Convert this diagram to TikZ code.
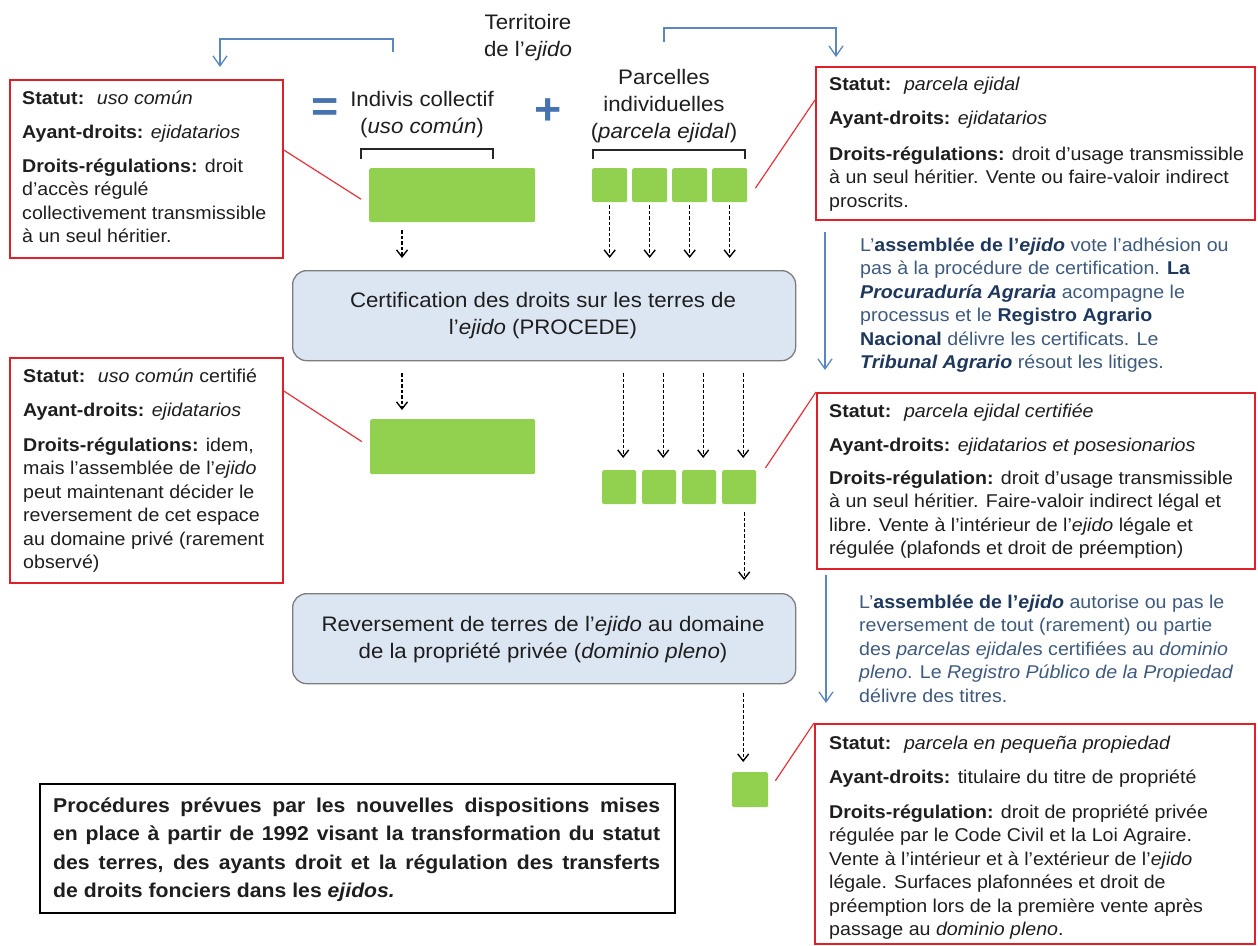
\documentclass[tikz,border=0pt]{standalone}
\usepackage{fontspec}
\setmainfont{Liberation Sans}[FakeStretch=1.06]
\usetikzlibrary{arrows.meta,calc}
\definecolor{rboxc}{RGB}{224,32,40}
\definecolor{rlinec}{RGB}{232,50,60}
\definecolor{grn}{RGB}{146,208,80}
\definecolor{barrow}{RGB}{90,135,192}
\definecolor{symb}{RGB}{70,115,175}
\definecolor{procfill}{RGB}{220,230,242}
\definecolor{procdraw}{RGB}{125,125,125}
\definecolor{txt}{RGB}{30,30,30}
\definecolor{btxt}{RGB}{62,90,125}
\definecolor{bbold}{RGB}{30,55,92}
\newcommand{\bt}[1]{\begin{tabular}[t]{@{}l@{}}#1\end{tabular}}
\newcommand{\ct}[1]{\begin{tabular}[t]{@{}c@{}}#1\end{tabular}}
\newcommand{\bb}[1]{{\bfseries\color{bbold}#1}}
\begin{document}
\begin{tikzpicture}[x=1pt,y=-1pt,
  redbox/.style={draw=rboxc,line width=1.8pt,anchor=north west,inner sep=0pt},
  grnbox/.style={fill=grn,draw=none,anchor=north west,inner sep=0pt,rounded corners=1.5pt},
  procbox/.style={draw=procdraw,fill=procfill,line width=1.3pt,rounded corners=14pt,anchor=north west,inner sep=0pt},
  boxtxt/.style={anchor=base west,inner sep=0pt,text=txt,font=\fontsize{18.5}{23.5}\selectfont},
  bluetxt/.style={anchor=base west,inner sep=0pt,text=btxt,font=\fontsize{18.5}{23.5}\selectfont},
  lbl/.style={anchor=base,inner sep=0pt,text=txt,font=\fontsize{21}{27}\selectfont},
  dasharrow/.style={draw=black,line width=1.4pt,dash pattern=on 3.5pt off 2pt,-{Straight Barb[length=7pt,width=11pt]}},
  bluearrow/.style={draw=barrow,line width=1.3pt,-{Straight Barb[length=10pt,width=14pt]}},
  redline/.style={draw=rlinec,line width=1.2pt},
  bracket/.style={draw=black!85,line width=1.4pt},
  symbol/.style={inner sep=0pt,text=symb,font=\fontsize{44}{44}\selectfont\bfseries}]
\useasboundingbox (0,0) rectangle (1258,945);
\fill[white] (0,0) rectangle (1258,945);

% labels
\node[lbl] (terr) at (528,29) {\ct{Territoire\\de l’\textit{ejido}}};
\node[lbl] (indiv) at (422,106) {\ct{Indivis collectif\\(\textit{uso común})}};
\node[lbl] (parc) at (664,84) {\ct{Parcelles\\individuelles\\(\textit{parcela ejidal})}};
\node[symbol] (eq) at (325,110) {=};
\node[symbol] (plus) at (548,112) {+};

% red boxes
\node[redbox,minimum width=273pt,minimum height=178pt] (b1) at (9,79) {};
\node[redbox,minimum width=439pt,minimum height=153pt] (r1) at (815,66) {};
\node[redbox,minimum width=273pt,minimum height=225pt] (b2) at (9,357) {};
\node[redbox,minimum width=438pt,minimum height=176pt] (r2) at (816,392) {};
\node[redbox,minimum width=440pt,minimum height=220pt] (r3) at (814,723) {};

\node[boxtxt] (b1t) at (22,104) {\bt{\textbf{Statut:}~ \textit{uso común}\\[10.5pt]
\textbf{Ayant-droits:} \textit{ejidatarios}\\[10.5pt]
\textbf{Droits-régulations:} droit\\
d’accès régulé\\
collectivement transmissible\\
à un seul héritier.}};

\node[boxtxt] (r1t) at (829,90) {\bt{\textbf{Statut:}~ \textit{parcela ejidal}\\[10.5pt]
\textbf{Ayant-droits:} \textit{ejidatarios}\\[12.5pt]
\textbf{Droits-régulations:} droit d’usage transmissible\\
à un seul héritier. Vente ou faire-valoir indirect\\
proscrits.}};

\node[boxtxt] (b2t) at (23,382) {\bt{\textbf{Statut:}~ \textit{uso común} certifié\\[10.5pt]
\textbf{Ayant-droits:} \textit{ejidatarios}\\[11.5pt]
\textbf{Droits-régulations:} idem,\\
mais l’assemblée de l’\textit{ejido}\\
peut maintenant décider le\\
reversement de cet espace\\
au domaine privé (rarement\\
observé)}};

\node[boxtxt] (r2t) at (829,417) {\bt{\textbf{Statut:}~ \textit{parcela ejidal certifiée}\\[10.5pt]
\textbf{Ayant-droits:} \textit{ejidatarios et posesionarios}\\[9.5pt]
\textbf{Droits-régulation:} droit d’usage transmissible\\
à un seul héritier. Faire-valoir indirect légal et\\
libre. Vente à l’intérieur de l’\textit{ejido} légale et\\
régulée (plafonds et droit de préemption)}};

\node[boxtxt] (r3t) at (829,749) {\bt{\textbf{Statut:}~ \textit{parcela en pequeña propiedad}\\[10.5pt]
\textbf{Ayant-droits:} titulaire du titre de propriété\\[11.5pt]
\textbf{Droits-régulation:} droit de propriété privée\\
régulée par le Code Civil et la Loi Agraire.\\
Vente à l’intérieur et à l’extérieur de l’\textit{ejido}\\
légale. Surfaces plafonnées et droit de\\
préemption lors de la première vente après\\
passage au \textit{dominio pleno}.}};

% blue texts
\node[bluetxt] (bt1) at (860,251) {\bt{L’\bb{assemblée de l’\textit{ejido}} vote l’adhésion ou\\
pas à la procédure de certification. \bb{La}\\
\bb{\textit{Procuraduría Agraria}} acompagne le\\
processus et le \bb{Registro Agrario}\\
\bb{Nacional} délivre les certificats. Le\\
\bb{\textit{Tribunal Agrario}} résout les litiges.}};

\node[bluetxt] (bt2) at (859,608) {\bt{L’\bb{assemblée de l’\textit{ejido}} autorise ou pas le\\
reversement de tout (rarement) ou partie\\
des \textit{parcelas ejidal}es certifiées au \textit{dominio}\\
\textit{pleno}. Le \textit{Registro Público de la Propiedad}\\
délivre des titres.}};

% green shapes
\node[grnbox,minimum width=166pt,minimum height=54pt] (g1) at (369,168) {};
\node[grnbox,minimum width=35pt,minimum height=34pt] (s11) at (592,168) {};
\node[grnbox,minimum width=35pt,minimum height=34pt] (s12) at (632,168) {};
\node[grnbox,minimum width=35pt,minimum height=34pt] (s13) at (672,168) {};
\node[grnbox,minimum width=35pt,minimum height=34pt] (s14) at (712,168) {};
\node[grnbox,minimum width=165pt,minimum height=55pt] (g2) at (370,419) {};
\node[grnbox,minimum width=34pt,minimum height=34pt] (s21) at (602,470) {};
\node[grnbox,minimum width=34pt,minimum height=34pt] (s22) at (642,470) {};
\node[grnbox,minimum width=34pt,minimum height=34pt] (s23) at (682,470) {};
\node[grnbox,minimum width=34pt,minimum height=34pt] (s24) at (722,470) {};
\node[grnbox,minimum width=36pt,minimum height=35pt] (s3) at (732,772) {};

% process boxes
\node[procbox,minimum width=503pt,minimum height=90pt] (p1) at (292,270) {};
\node[lbl] (p1t) at (543,307) {\ct{Certification des droits sur les terres de\\l’\textit{ejido} (PROCEDE)}};
\node[procbox,minimum width=503pt,minimum height=90pt] (p2) at (292,593) {};
\node[lbl] (p2t) at (543,631) {\ct{Reversement de terres de l’\textit{ejido} au domaine\\de la propriété privée (\textit{dominio pleno})}};

% note box
\node[draw=black,line width=1.8pt,anchor=north west,inner sep=0pt,minimum width=635pt,minimum height=129pt] (note) at (39,783) {};
\node[anchor=base west,inner sep=0pt,text=txt,font=\fontsize{20}{28.5}\selectfont\bfseries] (notet) at (53,812) {\parbox[t]{607pt}{\hyphenpenalty=10000 Procédures prévues par les nouvelles dispositions mises\linebreak en place à partir de 1992 visant la transformation du statut\linebreak des terres, des ayants droit et la régulation des transferts\linebreak de droits fonciers dans les \textit{ejidos.}}};

% black brackets
\draw[bracket] ($(g1.north west)+(-8,-9)$) -- ($(g1.north west)+(-8,-19)$) -- ($(g1.north west)+(124,-19)$) -- ($(g1.north west)+(124,-9)$);
\draw[bracket] ($(s11.north west)+(1,-9)$) -- ($(s11.north west)+(1,-18)$) -- ($(s11.north west)+(153,-18)$) -- ($(s11.north west)+(153,-9)$);

% blue top brackets
\draw[bluearrow] ($(b1.north west)+(384,-27)$) -- ($(b1.north west)+(384,-40)$) -- ($(b1.north west)+(211,-40)$) -- ($(b1.north west)+(211,-12)$);
\draw[bluearrow] ($(r1.north west)+(-151,-24)$) -- ($(r1.north west)+(-151,-38)$) -- ($(r1.north west)+(21,-38)$) -- ($(r1.north west)+(21,-9)$);

% blue side arrows
\draw[bluearrow] ($(r1.south west)+(10,11)$) -- ($(r2.north west)+(9,-22)$);
\draw[bluearrow] ($(r2.south west)+(10,5)$) -- ($(r3.north west)+(12,-20)$);

% dashed arrows
\draw[dasharrow] ($(g1.south west)+(33,8)$) -- ($(p1.north west)+(110,-12)$);
\foreach \s in {s11,s12,s13,s14}
  \draw[dasharrow] ($(\s.south)+(0,3)$) -- ($(p1.north -| \s.south)+(0,-12)$);
\draw[dasharrow] ($(p1.south west)+(110,12)$) -- ($(g2.north west)+(32,-9)$);
\foreach \s in {s21,s22,s23,s24}
  \draw[dasharrow] ($(p1.south -| \s.north)+(4,12)$) -- ($(\s.north)+(4,-12)$);
\draw[dasharrow] ($(s24.south)+(5,8)$) -- ($(p2.north -| s24.south)+(5,-13)$);
\draw[dasharrow] ($(p2.south -| s24.south)+(4,9)$) -- ($(s3.north -| s24.south)+(4,-10)$);

% red connectors
\draw[redline] ($(b1.north east)+(0,71)$) -- ($(g1.west)+(-8,4)$);
\draw[redline] ($(s14.east)+(8,3)$) -- ($(r1.north west)+(0,34)$);
\draw[redline] ($(b2.north east)+(0,34)$) -- ($(g2.west)+(-8,-5)$);
\draw[redline] ($(s24.north east)+(9,-2)$) -- (r2.north west);
\draw[redline] ($(s3.east)+(7,-9)$) -- (r3.north west);
\end{tikzpicture}
\end{document}
